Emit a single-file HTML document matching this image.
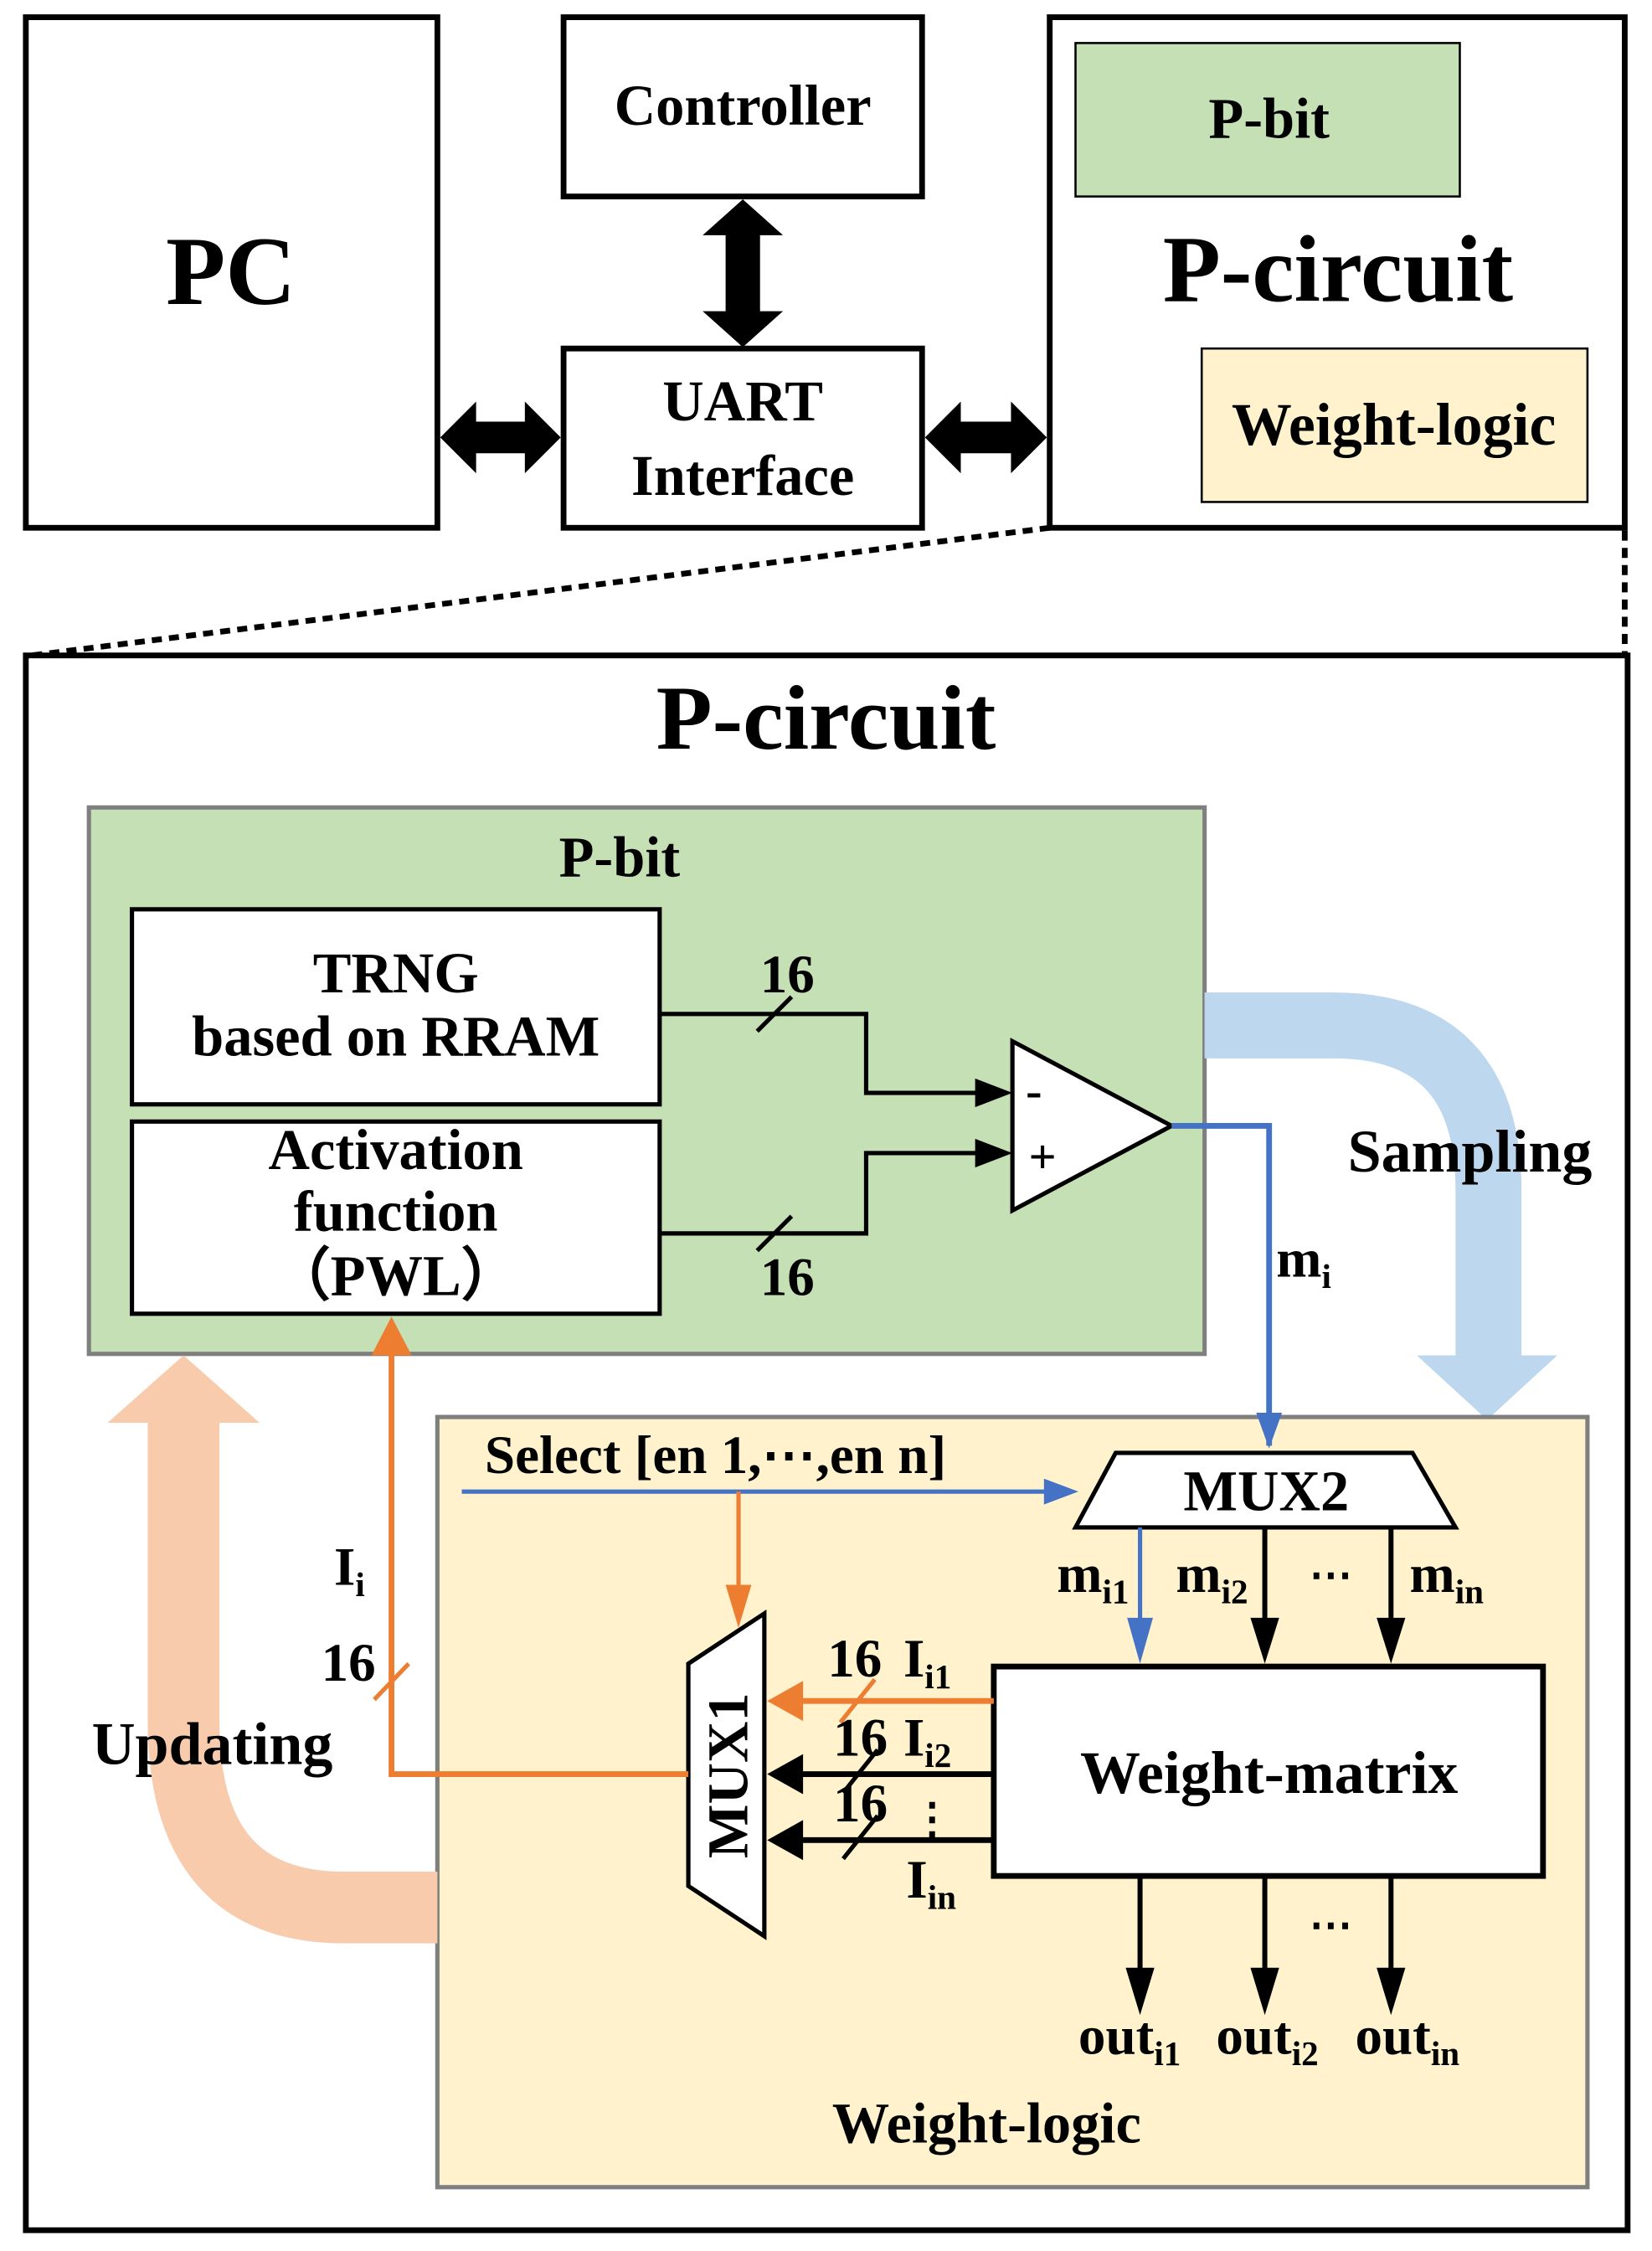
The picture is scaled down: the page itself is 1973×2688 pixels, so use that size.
<!DOCTYPE html>
<html><head><meta charset="utf-8"><style>
html,body{margin:0;padding:0;background:#fff;}
svg{display:block;}
text{font-family:"Liberation Serif",serif;font-weight:bold;fill:#000;}
</style></head><body>
<svg width="1973" height="2688" viewBox="0 0 1152 1569.5" xmlns="http://www.w3.org/2000/svg">
<!-- top row -->
<rect x="18" y="12" width="287" height="356" fill="#fff" stroke="#000" stroke-width="4"/>
<text x="161" y="212" font-size="68" text-anchor="middle">PC</text>
<rect x="393" y="12" width="250" height="125" fill="#fff" stroke="#000" stroke-width="4"/>
<text x="518" y="87" font-size="40" text-anchor="middle">Controller</text>
<rect x="393" y="243" width="250" height="125" fill="#fff" stroke="#000" stroke-width="4"/>
<text x="518" y="293" font-size="40" text-anchor="middle">UART</text>
<text x="518" y="345" font-size="40" text-anchor="middle">Interface</text>
<rect x="732" y="12" width="401" height="356" fill="#fff" stroke="#000" stroke-width="4"/>
<rect x="750" y="30" width="268" height="107" fill="#c5e0b4" stroke="#000" stroke-width="1.5"/>
<text x="885" y="96" font-size="40" text-anchor="middle">P-bit</text>
<text x="933" y="210" font-size="66" text-anchor="middle">P-circuit</text>
<rect x="838" y="243" width="269" height="107" fill="#fff2cc" stroke="#000" stroke-width="1.5"/>
<text x="972" y="310" font-size="42" text-anchor="middle">Weight-logic</text>
<!-- fat double arrows -->
<path d="M518,139 L546,164 L530,164 L530,217 L546,217 L518,242 L490,217 L506,217 L506,164 L490,164 Z" fill="#000"/>
<path d="M307,305 L332,280 L332,294 L366,294 L366,280 L391,305 L366,330 L366,316 L332,316 L332,330 Z" fill="#000"/>
<path d="M645,305 L670,280 L670,294 L705,294 L705,280 L730,305 L705,330 L705,316 L670,316 L670,330 Z" fill="#000"/>
<!-- dotted -->
<line x1="732" y1="368" x2="22" y2="457" stroke="#000" stroke-width="4" stroke-dasharray="7,5"/>
<line x1="1133" y1="370" x2="1133" y2="457" stroke="#000" stroke-width="4" stroke-dasharray="7,5"/>
<!-- big box -->
<rect x="18" y="457" width="1117" height="1098" fill="#fff" stroke="#000" stroke-width="4"/>
<text x="576" y="522" font-size="64" text-anchor="middle">P-circuit</text>
<!-- P-bit -->
<rect x="62" y="563" width="778" height="381" fill="#c5e0b4" stroke="#7f7f7f" stroke-width="3"/>
<text x="432" y="611" font-size="40" text-anchor="middle">P-bit</text>
<rect x="92" y="634" width="368" height="136" fill="#fff" stroke="#000" stroke-width="3"/>
<text x="276" y="692" font-size="40" text-anchor="middle">TRNG</text>
<text x="276" y="736" font-size="40" text-anchor="middle">based on RRAM</text>
<rect x="92" y="782" width="368" height="134" fill="#fff" stroke="#000" stroke-width="3"/>
<text x="276" y="815" font-size="40" text-anchor="middle">Activation</text>
<text x="276" y="858" font-size="40" text-anchor="middle">function</text>
<text x="276" y="903" font-size="40" text-anchor="middle">（PWL）</text>
<polyline points="460,707 604,707 604,762 685,762" fill="none" stroke="#000" stroke-width="3"/>
<polygon points="680,752 706,762 680,772" fill="#000"/>
<polyline points="460,860 604,860 604,804 685,804" fill="none" stroke="#000" stroke-width="3"/>
<polygon points="680,794 706,804 680,814" fill="#000"/>
<line x1="528" y1="719" x2="552" y2="695" stroke="#000" stroke-width="3"/>
<line x1="528" y1="872" x2="552" y2="848" stroke="#000" stroke-width="3"/>
<text x="549" y="692" font-size="38" text-anchor="middle">16</text>
<text x="549" y="903" font-size="38" text-anchor="middle">16</text>
<polygon points="706,726 706,844 817,785" fill="#fff" stroke="#000" stroke-width="3"/>
<text x="721" y="772" font-size="34" text-anchor="middle">-</text>
<text x="727" y="818" font-size="34" text-anchor="middle">+</text>
<!-- sampling arrow -->
<path d="M840,715 L930,715 Q1038,715 1038,830 L1038,948" fill="none" stroke="#bdd7ee" stroke-width="46"/>
<polygon points="988,945 1086,945 1037,990" fill="#bdd7ee"/>
<text x="1025" y="817" font-size="42" text-anchor="middle">Sampling</text>
<!-- weight-logic -->
<rect x="305" y="988" width="802" height="537" fill="#fff2cc" stroke="#7f7f7f" stroke-width="3"/>
<text x="688" y="1494" font-size="40" text-anchor="middle">Weight-logic</text>
<!-- updating arrow -->
<path d="M305,1330 L240,1330 Q128,1330 128,1200 L128,988" fill="none" stroke="#f8cbad" stroke-width="50"/>
<polygon points="75,992 181,992 128,945" fill="#f8cbad"/>
<text x="148" y="1230" font-size="42" text-anchor="middle">Updating</text>
<!-- blue m_i -->
<polyline points="817,785 885,785 885,1008" fill="none" stroke="#4472c4" stroke-width="4"/>
<polygon points="876,985 894,985 885,1010" fill="#4472c4"/>
<text x="890" y="890" font-size="38">m<tspan font-size="24" dy="8">i</tspan></text>
<!-- select -->
<line x1="322" y1="1040" x2="730" y2="1040" stroke="#4472c4" stroke-width="3"/>
<polygon points="728,1031 752,1040 728,1049" fill="#4472c4"/>
<text x="338" y="1027" font-size="38">Select [en 1,⋯,en n]</text>
<polygon points="750,1065 1015,1065 985,1013 778,1013" fill="#fff" stroke="#000" stroke-width="3"/>
<text x="883" y="1053" font-size="40" text-anchor="middle">MUX2</text>
<line x1="515" y1="1040" x2="515" y2="1112" stroke="#ed7d31" stroke-width="3"/>
<polygon points="506,1105 524,1105 515,1135" fill="#ed7d31"/>
<!-- MUX1 -->
<polygon points="480,1160 533,1125 533,1350 480,1315" fill="#fff" stroke="#000" stroke-width="3"/>
<text x="0" y="0" font-size="40" text-anchor="middle" transform="translate(521,1238) rotate(-90)">MUX1</text>
<!-- m arrows -->
<line x1="795" y1="1065" x2="795" y2="1140" stroke="#4472c4" stroke-width="3"/>
<polygon points="786,1128 804,1128 795,1160" fill="#4472c4"/>
<line x1="882" y1="1065" x2="882" y2="1140" stroke="#000" stroke-width="3.5"/>
<polygon points="872,1128 892,1128 882,1160" fill="#000"/>
<line x1="970" y1="1065" x2="970" y2="1140" stroke="#000" stroke-width="3.5"/>
<polygon points="960,1128 980,1128 970,1160" fill="#000"/>
<text x="737" y="1110" font-size="38">m<tspan font-size="24" dy="8">i1</tspan></text>
<text x="820" y="1110" font-size="38">m<tspan font-size="24" dy="8">i2</tspan></text>
<text x="928" y="1108" font-size="30" text-anchor="middle">⋯</text>
<text x="983" y="1110" font-size="38">m<tspan font-size="24" dy="8">in</tspan></text>
<rect x="693" y="1162" width="383" height="146" fill="#fff" stroke="#000" stroke-width="4"/>
<text x="885" y="1250" font-size="42" text-anchor="middle">Weight-matrix</text>
<!-- outputs -->
<line x1="795" y1="1308" x2="795" y2="1385" stroke="#000" stroke-width="3.5"/>
<polygon points="785,1372 805,1372 795,1405" fill="#000"/>
<line x1="882" y1="1308" x2="882" y2="1385" stroke="#000" stroke-width="3.5"/>
<polygon points="872,1372 892,1372 882,1405" fill="#000"/>
<line x1="970" y1="1308" x2="970" y2="1385" stroke="#000" stroke-width="3.5"/>
<polygon points="960,1372 980,1372 970,1405" fill="#000"/>
<text x="928" y="1352" font-size="30" text-anchor="middle">⋯</text>
<text x="752" y="1432" font-size="38">out<tspan font-size="24" dy="8">i1</tspan></text>
<text x="848" y="1432" font-size="38">out<tspan font-size="24" dy="8">i2</tspan></text>
<text x="945" y="1432" font-size="38">out<tspan font-size="24" dy="8">in</tspan></text>
<!-- inputs to MUX1 -->
<line x1="693" y1="1186" x2="555" y2="1186" stroke="#ed7d31" stroke-width="4"/>
<polygon points="560,1172 560,1200 535,1186" fill="#ed7d31"/>
<line x1="693" y1="1237" x2="555" y2="1237" stroke="#000" stroke-width="4"/>
<polygon points="560,1223 560,1251 535,1237" fill="#000"/>
<line x1="693" y1="1283" x2="555" y2="1283" stroke="#000" stroke-width="4"/>
<polygon points="560,1269 560,1297 535,1283" fill="#000"/>
<line x1="586" y1="1201" x2="610" y2="1171" stroke="#ed7d31" stroke-width="3"/>
<line x1="588" y1="1250" x2="612" y2="1220" stroke="#000" stroke-width="3"/>
<line x1="588" y1="1296" x2="612" y2="1266" stroke="#000" stroke-width="3"/>
<text x="596" y="1169" font-size="38" text-anchor="middle">16</text>
<text x="630" y="1169" font-size="38">I<tspan font-size="24" dy="8">i1</tspan></text>
<text x="600" y="1224" font-size="38" text-anchor="middle">16</text>
<text x="630" y="1224" font-size="38">I<tspan font-size="24" dy="8">i2</tspan></text>
<text x="600" y="1270" font-size="38" text-anchor="middle">16</text>
<text x="650" y="1278" font-size="30" text-anchor="middle">⋮</text>
<text x="632" y="1323" font-size="38">I<tspan font-size="24" dy="8">in</tspan></text>
<!-- MUX1 output -->
<polyline points="480,1237 273,1237 273,940" fill="none" stroke="#ed7d31" stroke-width="4"/>
<polygon points="259,945 287,945 273,918" fill="#ed7d31"/>
<line x1="261" y1="1185" x2="285" y2="1160" stroke="#ed7d31" stroke-width="3"/>
<text x="243" y="1172" font-size="38" text-anchor="middle">16</text>
<text x="233" y="1105" font-size="38">I<tspan font-size="24" dy="8">i</tspan></text>
</svg>
</body></html>
